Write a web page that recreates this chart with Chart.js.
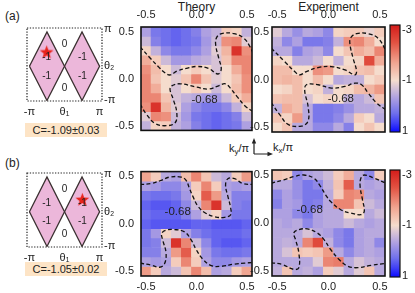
<!DOCTYPE html>
<html>
<head>
<meta charset="utf-8">
<script src="https://cdn.jsdelivr.net/npm/chart.js@4.4.1/dist/chart.umd.min.js"></script>
<style>
  body { margin:0; width:415px; height:293px; position:relative; overflow:hidden; background:#fff;
         font-family:"Liberation Sans", Arial, sans-serif; color:#222; }
  canvas { position:absolute; }
  .t { position:absolute; white-space:nowrap; line-height:1; font-size:12px; }
  .c { position:absolute; background:#fde4c6; font-size:11px; text-align:center; line-height:14px; height:14px; }
  sub { font-size:8px; vertical-align:-2px; }
</style>
</head>
<body>
<div class="t" style="left:5px;top:10px">(a)</div>
<div class="t" style="left:5px;top:157px">(b)</div>
<div class="t" style="left:141px;top:1px;width:111px;text-align:center">Theory</div>
<div class="t" style="left:272px;top:1px;width:113px;text-align:center">Experiment</div>
<div class="c" id="cA" style="left:25px;top:123px;width:82px"></div>
<div class="c" id="cB" style="left:25px;top:262px;width:82px"></div>
<div class="t" style="left:229px;top:143px;font-size:11px">k<sub>y</sub>/π</div>
<svg style="position:absolute;left:248px;top:136px" width="32" height="24">
  <path d="M6 18 V6 M6 18 H20" stroke="#222" stroke-width="1.2" fill="none"/>
  <path d="M6 2 L3.8 7.5 L8.2 7.5 Z M25 18 L19.5 15.8 L19.5 20.2 Z" fill="#222"/>
</svg>
<div class="t" style="left:273px;top:142px;font-size:11px">k<sub>x</sub>/π</div>

<script>
// grid axes (kx left->right, ky top->bottom)
const kx = [-0.5, -0.4, -0.3, -0.2, -0.1, 0.0, 0.1, 0.2, 0.3, 0.4, 0.5];
const ky = [0.5, 0.4, 0.3, 0.2, 0.1, 0.0, -0.1, -0.2, -0.3, -0.4, -0.5];
const kTicks = [-0.5, 0.0, 0.5];
const cbTicks = [-3, -1, 1];
const chernA = 'C=-1.09±0.03';
const chernB = 'C=-1.05±0.02';
const contourLevel = '-0.68';

// Berry curvature maps, rows = ky
const theoryA = [
  [-0.3, 0.2, 0.3, 0.4, 0.3, 0.1, -0.3, -0.5, -1.2, -1.1, -0.5],
  [-0.6, 0.1, 0.3, 0.4, 0.3, 0.2, -0.2, -0.6, -1.9, -2.0, -0.8],
  [-1.1, -0.5, 0.0, 0.2, 0.2, 0.0, -0.3, -0.8, -1.5, -2.9, -1.9],
  [-1.6, -1.2, -0.6, -0.2, -0.2, -0.4, -0.5, -0.7, -1.3, -2.0, -2.0],
  [-1.9, -1.4, -1.0, -0.6, -1.0, -1.2, -1.0, -0.7, -1.0, -1.6, -2.0],
  [-2.0, -1.3, -1.0, -0.8, -1.3, -2.0, -1.3, -0.8, -1.0, -1.3, -1.9],
  [-2.0, -1.6, -1.0, -0.7, -1.0, -1.2, -1.0, -0.6, -1.0, -1.4, -1.9],
  [-2.0, -2.0, -1.3, -0.7, -0.5, -0.4, -0.2, -0.2, -0.6, -1.2, -1.6],
  [-1.9, -2.9, -1.5, -0.8, -0.3, 0.0, 0.2, 0.2, 0.0, -0.5, -1.1],
  [-0.8, -2.0, -1.9, -0.6, -0.2, 0.2, 0.3, 0.4, 0.3, 0.1, -0.6],
  [-0.5, -1.1, -1.2, -0.5, -0.3, 0.1, 0.3, 0.4, 0.3, 0.2, -0.3]
];
const exptA = [
  [-0.8, -0.4, -0.1, -0.4, -0.3, 0.0, -1.1, -1.2, -1.2, -0.9, -1.2],
  [-0.5, 0.0, -0.3, 0.2, 0.2, 0.1, -0.5, -1.9, -2.0, -1.6, -1.0],
  [-0.4, -0.4, 0.1, -0.3, -0.4, 0.0, -1.0, -1.3, -1.6, -1.4, -2.0],
  [-1.1, -1.0, -0.4, -0.4, -0.6, -1.0, -0.5, -1.0, -1.1, -2.6, -1.6],
  [-1.4, -1.4, -1.0, -1.0, -1.9, -1.8, -1.0, -1.1, -1.3, -1.4, -1.0],
  [-1.4, -1.5, -1.4, -1.0, -1.4, -1.0, -0.4, -0.5, -0.5, -1.0, -1.2],
  [-1.0, -1.1, -1.4, -1.0, -1.1, -0.5, -1.0, -1.1, -1.4, -1.5, -1.8],
  [-1.3, -1.4, -1.4, -0.7, -1.0, -1.1, -1.0, -0.5, -0.4, -0.6, -1.3],
  [-0.5, -1.6, -1.4, -0.4, 0.2, 0.2, 0.1, -0.1, -0.4, -0.4, -0.5],
  [-1.3, -1.1, -1.8, -0.4, 0.2, 0.2, 0.0, -0.4, -1.2, -1.0, -0.4],
  [-1.0, -1.3, -0.4, -0.4, 0.0, 0.0, -0.4, 0.1, -1.0, -1.3, -1.0]
];
const theoryB = [
  [-1.7, -1.2, -0.4, -0.3, -1.4, -2.0, -1.3, -0.6, -0.4, -1.2, -1.8],
  [-0.3, -0.2, 0.0, 0.0, -0.3, -1.2, -2.0, -1.2, -0.3, -0.2, -0.3],
  [0.2, 0.3, 0.3, 0.2, -0.2, -1.1, -2.4, -1.8, -0.4, 0.1, 0.1],
  [0.4, 0.5, 0.5, 0.4, 0.0, -0.6, -2.0, -2.9, -0.6, 0.1, 0.2],
  [0.3, 0.4, 0.4, 0.4, 0.1, -0.3, -0.8, -1.1, -0.2, 0.2, 0.2],
  [0.4, 0.5, 0.5, 0.5, 0.5, 0.4, 0.4, 0.5, 0.5, 0.5, 0.4],
  [0.2, -0.2, -1.1, -0.8, -0.3, 0.1, 0.3, 0.4, 0.4, 0.4, 0.3],
  [0.2, 0.1, -0.6, -2.9, -2.0, -0.6, 0.0, 0.4, 0.5, 0.5, 0.4],
  [0.1, 0.1, -0.4, -1.8, -2.4, -1.1, -0.2, 0.2, 0.3, 0.3, 0.2],
  [-0.3, -0.2, -0.3, -1.2, -2.0, -1.2, -0.3, 0.0, 0.0, -0.2, -0.3],
  [-1.8, -1.2, -0.4, -0.6, -1.3, -2.0, -1.4, -0.3, -0.4, -1.2, -1.7]
];
const exptB = [
  [-1.3, -1.2, 0.0, -0.3, -0.4, -0.6, -1.2, -1.6, -0.4, 0.0, -1.2],
  [-0.4, -0.4, -0.1, 0.2, 0.0, -0.5, -1.3, -2.4, -0.4, -0.3, -0.4],
  [0.0, -0.3, -0.1, 0.2, 0.2, -0.4, -1.2, -2.0, -1.9, -0.4, -0.3],
  [0.1, -0.3, -0.2, 0.2, 0.1, -0.4, -2.0, -2.0, -1.3, -0.6, -0.4],
  [-0.3, -0.3, 0.0, 0.2, -0.3, -0.4, -0.4, -1.0, -1.0, -0.4, -0.6],
  [-0.4, -0.3, -0.4, 0.0, -0.3, -0.4, -0.4, -0.6, -0.4, -0.3, -0.4],
  [-0.4, -0.4, -0.4, -0.7, -0.4, -0.3, 0.0, 0.2, -0.3, -0.4, -0.4],
  [-0.4, -0.5, -0.4, -2.0, -2.6, -0.5, 0.0, 0.2, -0.3, -0.4, 0.0],
  [-0.4, -0.7, -1.3, -1.2, -1.3, -1.8, -0.4, 0.0, -0.3, -0.4, -0.3],
  [-0.4, -0.4, -0.4, -0.4, -0.8, -2.0, -2.1, -0.4, -0.7, -0.5, -0.4],
  [-0.5, -1.3, -0.4, -0.5, -0.3, -1.2, -0.8, -0.4, -0.8, -1.3, -0.4]
];

// -0.68 contours [kx, ky]
const thA_up = [[-0.56,0.34],[-0.46,0.22],[-0.38,0.13],[-0.31,0.06],[-0.26,0.04],[-0.195,0.08],[-0.10,0.11],[0.0,0.13],[0.12,0.11],[0.21,0.05],[0.245,0.1],[0.22,0.22],[0.19,0.36],[0.20,0.44],[0.25,0.48],[0.37,0.48],[0.47,0.43],[0.53,0.34],[0.56,0.27]];
const thA_lo = [[-0.56,-0.27],[-0.494,-0.381],[-0.411,-0.476],[-0.30,-0.50],[-0.212,-0.469],[-0.195,-0.364],[-0.229,-0.223],[-0.262,-0.118],[-0.245,-0.076],[-0.162,-0.054],[0.003,-0.09],[0.119,-0.11],[0.219,-0.076],[0.285,-0.054],[0.335,-0.10],[0.40,-0.188],[0.484,-0.293],[0.56,-0.35]];
const exA_up = [[-0.56,0.33],[-0.426,0.187],[-0.329,0.083],[-0.28,0.049],[-0.215,0.083],[-0.101,0.125],[0.029,0.135],[0.16,0.10],[0.257,0.049],[0.273,0.09],[0.24,0.22],[0.208,0.377],[0.218,0.44],[0.273,0.48],[0.387,0.48],[0.485,0.43],[0.56,0.30]];
const exA_lo = [[-0.56,-0.24],[-0.475,-0.367],[-0.394,-0.47],[-0.264,-0.488],[-0.199,-0.436],[-0.199,-0.28],[-0.231,-0.124],[-0.215,-0.055],[-0.101,-0.055],[0.029,-0.09],[0.16,-0.073],[0.257,-0.038],[0.322,-0.055],[0.387,-0.142],[0.469,-0.246],[0.56,-0.32]];
const thB_up = [[-0.56,0.414],[-0.45,0.424],[-0.351,0.458],[-0.268,0.492],[-0.152,0.492],[-0.103,0.458],[-0.07,0.373],[-0.036,0.289],[0.013,0.187],[0.08,0.119],[0.179,0.075],[0.278,0.068],[0.338,0.095],[0.338,0.17],[0.311,0.289],[0.288,0.407],[0.311,0.475],[0.378,0.475],[0.46,0.424],[0.56,0.414]];
const thB_lo = [[-0.56,-0.414],[-0.45,-0.435],[-0.368,-0.458],[-0.318,-0.424],[-0.302,-0.305],[-0.335,-0.17],[-0.345,-0.102],[-0.302,-0.068],[-0.219,-0.061],[-0.119,-0.085],[-0.053,-0.17],[-0.003,-0.272],[0.063,-0.373],[0.146,-0.441],[0.245,-0.448],[0.378,-0.424],[0.477,-0.414],[0.56,-0.407]];
const exB_up = [[-0.56,0.412],[-0.436,0.447],[-0.338,0.481],[-0.24,0.498],[-0.142,0.464],[-0.077,0.378],[-0.028,0.292],[0.021,0.223],[0.119,0.138],[0.217,0.103],[0.315,0.086],[0.348,0.12],[0.331,0.241],[0.308,0.378],[0.315,0.464],[0.348,0.498],[0.446,0.464],[0.56,0.412]];
const exB_lo = [[-0.56,-0.412],[-0.452,-0.43],[-0.338,-0.481],[-0.289,-0.464],[-0.289,-0.309],[-0.321,-0.172],[-0.338,-0.103],[-0.289,-0.069],[-0.207,-0.062],[-0.109,-0.103],[-0.044,-0.172],[0.021,-0.275],[0.103,-0.378],[0.185,-0.447],[0.283,-0.464],[0.413,-0.44],[0.56,-0.419]];

// phase diagram (theta1, theta2)
const P = Math.PI;
const diamondL = [[-P,0],[-P/2,P],[0,0],[-P/2,-P],[-P,0]];
const diamondR = [[0,0],[P/2,P],[P,0],[P/2,-P],[0,0]];
const midLine = [[-P,0],[P,0]];
const regionTxt = ['0', '0', '-1', '-1', '-1', '-1'];
const regionAt = [[0,2.0],[0,-2.0],[-1.6,0.8],[1.6,0.8],[-1.6,-0.9],[1.6,-0.9]];
const starA = [-1.6, 1.3];
const starB = [1.6, 1.1];

// colour map: value -> rgb
const CMAP = [[1.05,[10,10,255]],[0.7,[62,62,246]],[0.3,[112,112,236]],[-0.3,[174,160,225]],[-1,[245,220,205]],[-1.7,[240,165,145]],[-2.5,[226,82,66]],[-3.2,[212,28,26]]];
const colorOf = v => {
  if (v >= CMAP[0][0]) return 'rgb(' + CMAP[0][1] + ')';
  for (let i = 1; i < CMAP.length; i++) {
    const [v0, c0] = CMAP[i - 1], [v1, c1] = CMAP[i];
    if (v >= v1) {
      const t = (v0 - v) / (v0 - v1);
      return 'rgb(' + c0.map((a, j) => Math.round(a + (c1[j] - a) * t)).join(',') + ')';
    }
  }
  return 'rgb(' + CMAP[CMAP.length - 1][1] + ')';
};

Chart.defaults.font.family = '"Liberation Sans", Arial, sans-serif';
Chart.defaults.color = '#222';

const mkCanvas = (area, m) => {
  const c = document.createElement('canvas');
  c.width = area[2] - area[0] + m[0] + m[2];
  c.height = area[3] - area[1] + m[1] + m[3];
  c.style.left = (area[0] - m[0]) + 'px';
  c.style.top = (area[1] - m[1]) + 'px';
  document.body.appendChild(c);
  return c;
};

const frame = w => ({
  id: 'frame',
  afterDraw(ch) {
    const a = ch.chartArea, g = ch.ctx;
    g.save(); g.strokeStyle = '#111'; g.lineWidth = w;
    g.strokeRect(a.left, a.top, a.right - a.left, a.bottom - a.top);
    g.restore();
  }
});

const textAt = (items, font) => ({
  id: 'textAt',
  afterDatasetsDraw(ch) {
    const g = ch.ctx;
    g.save(); g.font = font; g.fillStyle = '#222'; g.textAlign = 'center'; g.textBaseline = 'middle';
    items.forEach(([s, p]) => g.fillText(s, ch.scales.x.getPixelForValue(p[0]), ch.scales.y.getPixelForValue(p[1])));
    g.restore();
  }
});

const heat = (area, vals, curves, lblAt, cfg) => {
  const top = cfg.xPos === 'top';
  const xH = top ? 27 : 18;
  const c = mkCanvas(area, [cfg.yW, top ? xH : 12, 12, top ? 12 : xH]);
  const ds = vals.map((row, r) => ({
    type: 'bar',
    data: row.map((v, i) => ({ x: kx[i], y: [ky[r] - 0.05, ky[r] + 0.05] })),
    backgroundColor: row.map(colorOf),
    borderWidth: 0, barPercentage: 1, categoryPercentage: 1, grouped: false, order: 2
  }));
  curves.forEach(cv => ds.push({
    type: 'line', data: cv.map(p => ({ x: p[0], y: p[1] })),
    borderColor: '#111', borderWidth: 1.3, borderDash: [4, 2.5], pointRadius: 0, tension: 0.4, fill: false, order: 0
  }));
  return new Chart(c, {
    type: 'bar',
    data: { datasets: ds },
    options: {
      responsive: false, animation: false, devicePixelRatio: 1, events: [],
      layout: { padding: { left: 0, right: 12, top: top ? 0 : 12, bottom: top ? 12 : 0 } },
      plugins: { legend: { display: false }, tooltip: { enabled: false } },
      scales: {
        x: {
          type: 'linear', position: cfg.xPos, min: -0.55, max: 0.55, offset: false,
          grid: { display: false, drawTicks: false }, border: { display: false },
          afterFit: s => { s.height = xH; },
          afterBuildTicks: s => { s.ticks = kTicks.map(v => ({ value: v })); },
          ticks: { padding: top ? 5 : 4, font: { size: 11 }, maxRotation: 0, callback: v => v.toFixed(1) }
        },
        y: {
          type: 'linear', min: -0.55, max: 0.55,
          grid: { display: false, drawTicks: false }, border: { display: false },
          afterFit: s => { s.width = cfg.yW; },
          afterBuildTicks: s => { s.ticks = kTicks.map(v => ({ value: v })); },
          ticks: { padding: cfg.yPad, font: { size: 11 }, callback: v => v.toFixed(1) }
        }
      }
    },
    plugins: [frame(1.6), textAt([[contourLevel, lblAt]], '11.5px "Liberation Sans", Arial')]
  });
};

const colorbar = area => {
  const c = mkCanvas(area, [4, 12, 20, 12]);
  return new Chart(c, {
    type: 'bar',
    data: {
      labels: [''],
      datasets: [{
        data: [[-3.2, 1.05]], borderWidth: 0, barPercentage: 1, categoryPercentage: 1,
        backgroundColor: ctx => {
          const ch = ctx.chart, a = ch.chartArea;
          if (!a) return null;
          const ys = ch.scales.y;
          const gr = ch.ctx.createLinearGradient(0, a.bottom, 0, a.top);
          CMAP.forEach(([v, col]) => {
            const t = Math.min(1, Math.max(0, (ys.getPixelForValue(v) - a.bottom) / (a.top - a.bottom)));
            gr.addColorStop(t, 'rgb(' + col + ')');
          });
          return gr;
        }
      }]
    },
    options: {
      responsive: false, animation: false, devicePixelRatio: 1, events: [],
      layout: { padding: { left: 4, top: 12, bottom: 12, right: 0 } },
      plugins: { legend: { display: false }, tooltip: { enabled: false } },
      scales: {
        x: { display: false },
        y: {
          position: 'right', reverse: true, min: -3.2, max: 1.05,
          grid: { display: false, drawTicks: false }, border: { display: false },
          afterFit: s => { s.width = 20; },
          afterBuildTicks: s => { s.ticks = cbTicks.map(v => ({ value: v })); },
          ticks: { padding: 2, font: { size: 11 } }
        }
      }
    },
    plugins: [frame(1.2)]
  });
};

const starImg = (() => {
  const s = document.createElement('canvas');
  s.width = s.height = 15;
  const g = s.getContext('2d');
  g.fillStyle = '#e8231b';
  g.beginPath();
  for (let i = 0; i < 10; i++) {
    const r = i % 2 ? 3 : 7.2, a = -Math.PI / 2 + i * Math.PI / 5;
    g.lineTo(7.5 + r * Math.cos(a), 8 + r * Math.sin(a));
  }
  g.closePath(); g.fill();
  return s;
})();

const dotted = {
  id: 'dotted',
  beforeDatasetsDraw(ch) {
    const a = ch.chartArea, g = ch.ctx;
    g.save(); g.strokeStyle = '#222'; g.lineWidth = 1.2; g.setLineDash([1.3, 1.5]);
    g.strokeRect(a.left, a.top, a.right - a.left, a.bottom - a.top);
    g.restore();
  }
};

const diagram = (area, star) => {
  const c = mkCanvas(area, [10, 12, 16, 18]);
  const pts = arr => arr.map(p => ({ x: p[0], y: p[1] }));
  const shape = arr => ({
    data: pts(arr), showLine: true, fill: 'shape', backgroundColor: '#ecb7da',
    borderColor: '#3a3030', borderWidth: 1.3, pointRadius: 0, tension: 0
  });
  return new Chart(c, {
    type: 'scatter',
    data: {
      datasets: [
        { data: pts([star]), pointStyle: starImg, pointRadius: 7, showLine: false },
        shape(diamondL), shape(diamondR),
        { data: pts(midLine), showLine: true, borderColor: '#3a3030', borderWidth: 1.2, pointRadius: 0 }
      ]
    },
    options: {
      responsive: false, animation: false, devicePixelRatio: 1, events: [],
      layout: { padding: { left: 10, top: 12, right: 0, bottom: 0 } },
      plugins: { legend: { display: false }, tooltip: { enabled: false } },
      scales: {
        x: {
          min: -P - 0.22, max: P + 0.22,
          grid: { display: false, drawTicks: false }, border: { display: false },
          afterFit: s => { s.height = 18; },
          afterBuildTicks: s => { s.ticks = [-P, 0, P].map(v => ({ value: v })); },
          ticks: { padding: 4, font: { size: 11 }, maxRotation: 0, callback: v => v < 0 ? '-π' : v > 0 ? 'π' : 'θ₁' }
        },
        y: {
          position: 'right', min: -P - 0.05, max: P + 0.36,
          grid: { display: false, drawTicks: false }, border: { display: false },
          afterFit: s => { s.width = 16; },
          afterBuildTicks: s => { s.ticks = [s.min + 0.05, 0, s.max - 0.1].map(v => ({ value: v })); },
          ticks: { padding: 2, font: { size: 11 }, callback: v => v < 0 ? '-π' : v > 0 ? 'π' : 'θ₂' }
        }
      }
    },
    plugins: [dotted, textAt(regionTxt.map((s, i) => [s, regionAt[i]]), '10px "Liberation Sans", Arial')]
  });
};

document.getElementById('cA').textContent = chernA;
document.getElementById('cB').textContent = chernB;

diagram([27, 28, 102, 101], starA);
diagram([27, 173, 102, 247], starB);
heat([141, 27, 252, 132], theoryA, [thA_up, thA_lo], [0.08, -0.22], { xPos: 'top', yW: 41, yPad: 7 });
heat([272, 27, 385, 132], exptA, [exA_up, exA_lo], [0.12, -0.205], { xPos: 'top', yW: 22, yPad: 3 });
heat([141, 170, 252, 276], theoryB, [thB_up, thB_lo], [-0.186, 0.125], { xPos: 'bottom', yW: 41, yPad: 7 });
heat([272, 170, 385, 276], exptB, [exB_up, exB_lo], [-0.183, 0.132], { xPos: 'bottom', yW: 22, yPad: 3 });
colorbar([390, 25, 400, 132]);
colorbar([390, 170, 400, 277]);
</script>
</body>
</html>
